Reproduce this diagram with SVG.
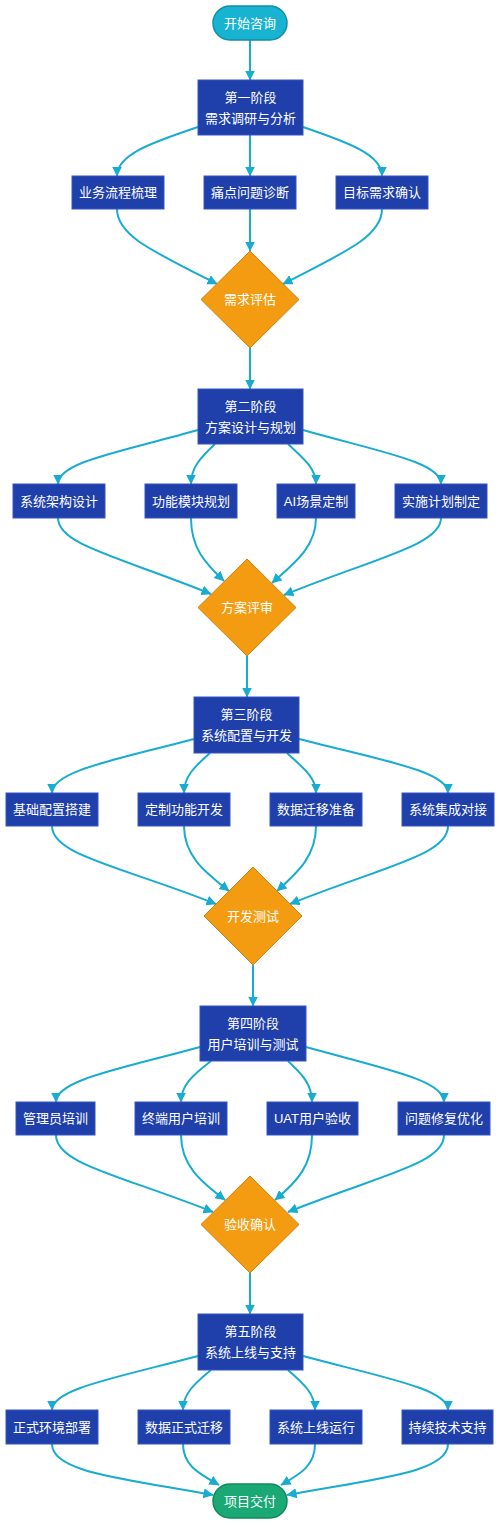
<svg xmlns="http://www.w3.org/2000/svg" width="500" height="1524" viewBox="0 0 500 1524">
<style>
text{font-family:"Liberation Sans","Noto Sans CJK SC",sans-serif;font-size:13px;fill:#ffffff;text-anchor:middle;dominant-baseline:central}
.box{fill:#1f3fab;stroke:#3555c8;stroke-width:1}
.dia{fill:#f39c12;stroke:#d37f0c;stroke-width:1}
.start{fill:#19b3d2;stroke:#0f8fab;stroke-width:1.5}
.end{fill:#1aa874;stroke:#0f8a5a;stroke-width:1.5}
.e{fill:none;stroke:#17acd0;stroke-width:2;marker-end:url(#ah)}
</style>
<defs>
<marker id="ah" markerUnits="userSpaceOnUse" markerWidth="11" markerHeight="11" refX="9.5" refY="5" orient="auto">
<path d="M0,0 L10,5 L0,10 z" fill="#17acd0"/>
</marker>
</defs>
<rect width="500" height="1524" fill="#ffffff"/>
<g id="connectors">
<path class="e" d="M250,40 L250,80"/>
<path class="e" d="M198,127 C150,143 117,155 117,176"/>
<path class="e" d="M250,135 L250,176"/>
<path class="e" d="M303,127 C350,143 382,155 382,176"/>
<path class="e" d="M117,209 C117,235 150,250 217,284"/>
<path class="e" d="M250,209 L250,251"/>
<path class="e" d="M382,209 C382,235 350,250 283,284"/>
<path class="e" d="M250,348 L250,389"/>
<path class="e" d="M198,430 C120,452 58,462 58,484"/>
<path class="e" d="M215,444 C200,458 191,468 191,484"/>
<path class="e" d="M288,444 C303,458 316,468 316,484"/>
<path class="e" d="M303,430 C380,452 441,462 441,484"/>
<path class="e" d="M58,518 C58,545 120,557 211,594"/>
<path class="e" d="M191,518 C191,548 205,563 224,581"/>
<path class="e" d="M316,518 C316,548 292,565 272,583"/>
<path class="e" d="M441,518 C441,545 375,558 284,595"/>
<path class="e" d="M247,656 L247,697"/>
<path class="e" d="M194,739 C115,760 52,771 52,793"/>
<path class="e" d="M210,753 C194,767 184,777 184,793"/>
<path class="e" d="M287,753 C302,767 316,777 316,793"/>
<path class="e" d="M299,739 C380,760 448,771 448,793"/>
<path class="e" d="M52,826 C52,855 120,866 216,904"/>
<path class="e" d="M184,826 C184,856 205,872 229,891"/>
<path class="e" d="M316,826 C316,856 298,872 277,891"/>
<path class="e" d="M448,826 C448,855 385,866 290,904"/>
<path class="e" d="M253,965 L253,1006"/>
<path class="e" d="M200,1047 C120,1069 56,1080 56,1102"/>
<path class="e" d="M211,1061 C193,1075 181,1085 181,1102"/>
<path class="e" d="M288,1061 C303,1075 312,1085 312,1102"/>
<path class="e" d="M306,1047 C385,1069 444,1080 444,1102"/>
<path class="e" d="M56,1135 C56,1164 120,1175 213,1212"/>
<path class="e" d="M181,1135 C181,1165 200,1181 225,1200"/>
<path class="e" d="M312,1135 C312,1165 298,1181 275,1200"/>
<path class="e" d="M444,1135 C444,1164 380,1175 288,1212"/>
<path class="e" d="M250,1273 L250,1314"/>
<path class="e" d="M198,1356 C115,1378 52,1389 52,1410"/>
<path class="e" d="M211,1370 C194,1384 183,1394 183,1410"/>
<path class="e" d="M288,1370 C304,1384 315,1394 315,1410"/>
<path class="e" d="M303,1356 C385,1378 448,1389 448,1410"/>
<path class="e" d="M52,1444 C52,1472 120,1478 213,1495"/>
<path class="e" d="M183,1444 C183,1466 200,1474 219,1485"/>
<path class="e" d="M315,1444 C315,1466 300,1474 281,1485"/>
<path class="e" d="M448,1444 C448,1472 380,1478 287,1495"/>
</g>
<g id="start"><rect class="start" x="213" y="6" width="74" height="34" rx="17"/><text x="250" y="23">开始咨询</text></g>
<g id="p1"><rect class="box" x="198" y="80" width="105" height="55"/><text x="250.5" y="97">第一阶段</text><text x="250.5" y="118">需求调研与分析</text></g>
<g id="p1a"><rect class="box" x="72" y="176" width="92" height="33"/><text x="118" y="192.5">业务流程梳理</text></g>
<g id="p1b"><rect class="box" x="204" y="176" width="92" height="33"/><text x="250" y="192.5">痛点问题诊断</text></g>
<g id="p1c"><rect class="box" x="336" y="176" width="92" height="33"/><text x="382" y="192.5">目标需求确认</text></g>
<g id="d1"><polygon class="dia" points="250,251 299,299.5 250,348 201,299.5"/><text x="250" y="299.5">需求评估</text></g>
<g id="p2"><rect class="box" x="198" y="389" width="105" height="55"/><text x="250.5" y="406">第二阶段</text><text x="250.5" y="427">方案设计与规划</text></g>
<g id="p2a"><rect class="box" x="13" y="484" width="92" height="34"/><text x="59" y="501">系统架构设计</text></g>
<g id="p2b"><rect class="box" x="145" y="484" width="92" height="34"/><text x="191" y="501">功能模块规划</text></g>
<g id="p2c"><rect class="box" x="277" y="484" width="78" height="34"/><text x="316" y="501">AI场景定制</text></g>
<g id="p2d"><rect class="box" x="395" y="484" width="92" height="34"/><text x="441" y="501">实施计划制定</text></g>
<g id="d2"><polygon class="dia" points="247,559 296,607.5 247,656 198,607.5"/><text x="247" y="607.5">方案评审</text></g>
<g id="p3"><rect class="box" x="194" y="697" width="105" height="56"/><text x="246.5" y="714.5">第三阶段</text><text x="246.5" y="735.5">系统配置与开发</text></g>
<g id="p3a"><rect class="box" x="6" y="793" width="92" height="33"/><text x="52" y="809.5">基础配置搭建</text></g>
<g id="p3b"><rect class="box" x="138" y="793" width="92" height="33"/><text x="184" y="809.5">定制功能开发</text></g>
<g id="p3c"><rect class="box" x="270" y="793" width="92" height="33"/><text x="316" y="809.5">数据迁移准备</text></g>
<g id="p3d"><rect class="box" x="402" y="793" width="92" height="33"/><text x="448" y="809.5">系统集成对接</text></g>
<g id="d3"><polygon class="dia" points="253,867 302,916 253,965 204,916"/><text x="253" y="916">开发测试</text></g>
<g id="p4"><rect class="box" x="200" y="1006" width="106" height="55"/><text x="253" y="1023">第四阶段</text><text x="253" y="1044">用户培训与测试</text></g>
<g id="p4a"><rect class="box" x="16" y="1102" width="79" height="33"/><text x="55.5" y="1118.5">管理员培训</text></g>
<g id="p4b"><rect class="box" x="135" y="1102" width="92" height="33"/><text x="181" y="1118.5">终端用户培训</text></g>
<g id="p4c"><rect class="box" x="267" y="1102" width="91" height="33"/><text x="312.5" y="1118.5">UAT用户验收</text></g>
<g id="p4d"><rect class="box" x="398" y="1102" width="92" height="33"/><text x="444" y="1118.5">问题修复优化</text></g>
<g id="d4"><polygon class="dia" points="250,1176 299,1224.5 250,1273 201,1224.5"/><text x="250" y="1224.5">验收确认</text></g>
<g id="p5"><rect class="box" x="198" y="1314" width="105" height="56"/><text x="250.5" y="1331.5">第五阶段</text><text x="250.5" y="1352.5">系统上线与支持</text></g>
<g id="p5a"><rect class="box" x="6" y="1410" width="92" height="34"/><text x="52" y="1427">正式环境部署</text></g>
<g id="p5b"><rect class="box" x="138" y="1410" width="92" height="34"/><text x="184" y="1427">数据正式迁移</text></g>
<g id="p5c"><rect class="box" x="270" y="1410" width="92" height="34"/><text x="316" y="1427">系统上线运行</text></g>
<g id="p5d"><rect class="box" x="402" y="1410" width="91" height="34"/><text x="447.5" y="1427">持续技术支持</text></g>
<g id="end"><rect class="end" x="213" y="1484" width="74" height="34" rx="17"/><text x="250" y="1501">项目交付</text></g>
</svg>
